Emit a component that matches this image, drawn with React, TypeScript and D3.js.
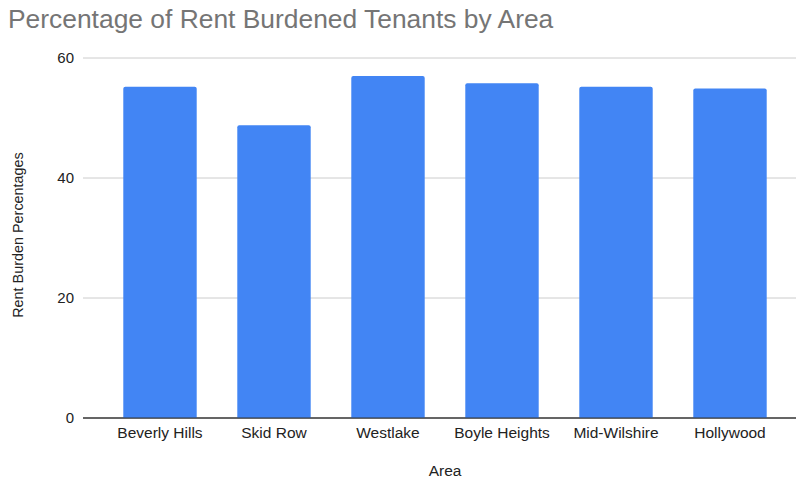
import * as d3 from 'd3';
import { useEffect, useRef } from 'react';

const areas = ['Beverly Hills', 'Skid Row', 'Westlake', 'Boyle Heights', 'Mid-Wilshire', 'Hollywood'];
const percentages = [55.2, 48.8, 57.0, 55.8, 55.2, 54.9];
const yTicks = [0, 20, 40, 60];

export default function App() {
  const ref = useRef<SVGSVGElement>(null);

  useEffect(() => {
    const width = 797;
    const height = 479;
    const left = 83;
    const right = 796;
    const top = 58;
    const bottom = 418;
    const font = 'Arial, "Liberation Sans", sans-serif';

    const svg = d3.select(ref.current);
    svg.selectAll('*').remove();
    svg.attr('width', width).attr('height', height);

    //scales
    const x = d3.scaleBand<string>().domain(areas).range([103, 787]).paddingInner(0.356).paddingOuter(0.178);
    const y = d3.scaleLinear().domain([0, 60]).range([bottom, top]);

    //title
    svg
      .append('text')
      .attr('x', 8)
      .attr('y', 28)
      .style('font-family', font)
      .style('font-size', '26.4px')
      .style('fill', '#757575')
      .text('Percentage of Rent Burdened Tenants by Area');

    //gridlines + y labels
    const grid = svg.append('g');
    grid
      .selectAll('line')
      .data(yTicks)
      .join('line')
      .attr('x1', left)
      .attr('x2', right)
      .attr('y1', (d) => y(d))
      .attr('y2', (d) => y(d))
      .attr('stroke', (d) => (d === 0 ? '#333' : '#ccc'))
      .attr('stroke-width', 1);

    grid
      .selectAll('text')
      .data(yTicks)
      .join('text')
      .attr('x', 74)
      .attr('y', (d) => y(d))
      .attr('dy', '0.35em')
      .attr('text-anchor', 'end')
      .style('font-family', font)
      .style('font-size', '15px')
      .style('fill', '#222')
      .text((d) => d);

    //bars
    svg
      .append('g')
      .selectAll('path')
      .data(areas)
      .join('path')
      .attr('fill', '#4285f4')
      .attr('d', (d, i) => {
        const x0 = x(d) ?? 0;
        const w = x.bandwidth();
        const y0 = y(percentages[i]);
        const r = 2;
        return `M${x0},${y(0)}V${y0 + r}Q${x0},${y0} ${x0 + r},${y0}H${x0 + w - r}Q${x0 + w},${y0} ${x0 + w},${y0 + r}V${y(0)}Z`;
      });

    //redraw baseline over bars
    svg
      .append('line')
      .attr('x1', left)
      .attr('x2', right)
      .attr('y1', y(0))
      .attr('y2', y(0))
      .attr('stroke', '#333')
      .attr('stroke-width', 1);

    //x labels
    svg
      .append('g')
      .selectAll('text')
      .data(areas)
      .join('text')
      .attr('x', (d) => (x(d) ?? 0) + x.bandwidth() / 2)
      .attr('y', 438)
      .attr('text-anchor', 'middle')
      .style('font-family', font)
      .style('font-size', '15.5px')
      .style('fill', '#222')
      .text((d) => d);

    //axis titles
    svg
      .append('text')
      .attr('x', 445)
      .attr('y', 476)
      .attr('text-anchor', 'middle')
      .style('font-family', font)
      .style('font-size', '15.5px')
      .style('fill', '#222')
      .text('Area');

    svg
      .append('text')
      .attr('transform', `translate(23,235) rotate(-90)`)
      .attr('text-anchor', 'middle')
      .style('font-family', font)
      .style('font-size', '14.4px')
      .style('fill', '#222')
      .text('Rent Burden Percentages');
  }, []);

  return <svg ref={ref} style={{ position: 'absolute', left: 0, top: 0 }} />;
}
